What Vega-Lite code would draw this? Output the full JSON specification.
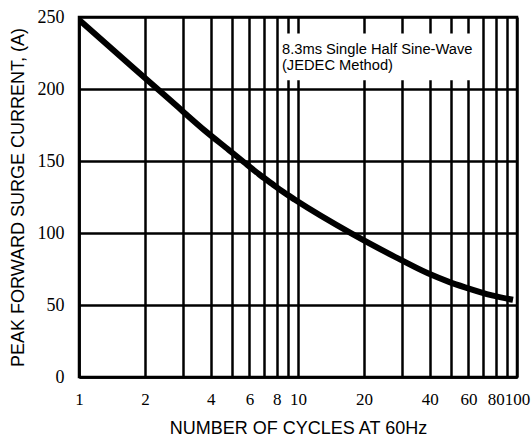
{
  "$schema": "https://vega.github.io/schema/vega-lite/v6.json",
  "width": 438,
  "height": 360,
  "autosize": {"type": "none"},
  "padding": {"left": 79, "top": 17, "right": 15, "bottom": 62},
  "background": "white",
  "config": {
    "font": "Liberation Sans",
    "view": {"stroke": "black", "strokeWidth": 2.5}
  },
  "datasets": {
    "curve": [
      {"cycles": 1, "current": 248.1},
      {"cycles": 1.78, "current": 214.4},
      {"cycles": 2.63, "current": 191.8},
      {"cycles": 3.84, "current": 169.9},
      {"cycles": 4.84, "current": 157.6},
      {"cycles": 5.67, "current": 149.1},
      {"cycles": 6.64, "current": 140.8},
      {"cycles": 7.61, "current": 134.2},
      {"cycles": 8.54, "current": 128.6},
      {"cycles": 9.69, "current": 123.1},
      {"cycles": 17.6, "current": 99.6},
      {"cycles": 26.9, "current": 84.5},
      {"cycles": 39.2, "current": 72.0},
      {"cycles": 48.9, "current": 66.1},
      {"cycles": 57.9, "current": 62.3},
      {"cycles": 76.9, "current": 56.7},
      {"cycles": 95.9, "current": 53.6}
    ],
    "box": [
      {"cycles": 8.19, "cycles2": 65, "current": 238.5, "current2": 206.0}
    ],
    "note": [
      {"cycles": 8.45, "current": 224.6, "label": "8.3ms Single Half Sine-Wave"},
      {"cycles": 8.45, "current": 213.5, "label": "(JEDEC Method)"}
    ]
  },
  "encoding": {
    "x": {
      "field": "cycles",
      "type": "quantitative",
      "scale": {"type": "log", "domain": [1, 100], "nice": false},
      "axis": {
        "title": "NUMBER OF CYCLES AT 60Hz",
        "values": [1, 2, 3, 4, 5, 6, 7, 8, 9, 10, 20, 30, 40, 50, 60, 70, 80, 90, 100],
        "labelExpr": "indexof([1, 2, 4, 6, 8, 10, 20, 40, 60, 80, 100], datum.value) >= 0 ? datum.label : ''",
        "format": "d",
        "grid": true,
        "gridColor": "black",
        "gridWidth": 2.5,
        "gridOpacity": 1,
        "ticks": false,
        "domain": true,
        "domainColor": "black",
        "domainWidth": 2.5,
        "labelFont": "Liberation Sans Narrow",
        "labelFontSize": 17,
        "labelColor": "black",
        "labelPadding": 14,
        "labelOverlap": false,
        "labelFlush": false,
        "labelBound": false,
        "titleFont": "Liberation Sans",
        "titleFontSize": 18,
        "titleFontWeight": "normal",
        "titleColor": "black",
        "titlePadding": 12
      }
    },
    "y": {
      "field": "current",
      "type": "quantitative",
      "scale": {"domain": [0, 250], "nice": false},
      "axis": {
        "title": "PEAK FORWARD SURGE CURRENT, (A)",
        "values": [0, 50, 100, 150, 200, 250],
        "grid": true,
        "gridColor": "black",
        "gridWidth": 2.5,
        "gridOpacity": 1,
        "ticks": false,
        "domain": true,
        "domainColor": "black",
        "domainWidth": 2.5,
        "labelFont": "Liberation Sans Narrow",
        "labelFontSize": 18,
        "labelColor": "black",
        "labelPadding": 15,
        "labelOverlap": false,
        "labelFlush": false,
        "labelBound": false,
        "titleFont": "Liberation Sans",
        "titleFontSize": 18,
        "titleFontWeight": "normal",
        "titleColor": "black",
        "titlePadding": 10
      }
    }
  },
  "layer": [
    {
      "data": {"name": "box"},
      "mark": {"type": "rect", "fill": "white", "stroke": null},
      "encoding": {
        "x2": {"field": "cycles2"},
        "y2": {"field": "current2"}
      }
    },
    {
      "data": {"name": "curve"},
      "mark": {"type": "line", "color": "black", "strokeWidth": 6, "interpolate": "monotone", "clip": true},
      "encoding": {}
    },
    {
      "data": {"name": "note"},
      "mark": {"type": "text", "align": "left", "baseline": "alphabetic", "font": "Liberation Sans", "fontSize": 14.7, "color": "black"},
      "encoding": {
        "text": {"field": "label", "type": "nominal"}
      }
    }
  ]
}
